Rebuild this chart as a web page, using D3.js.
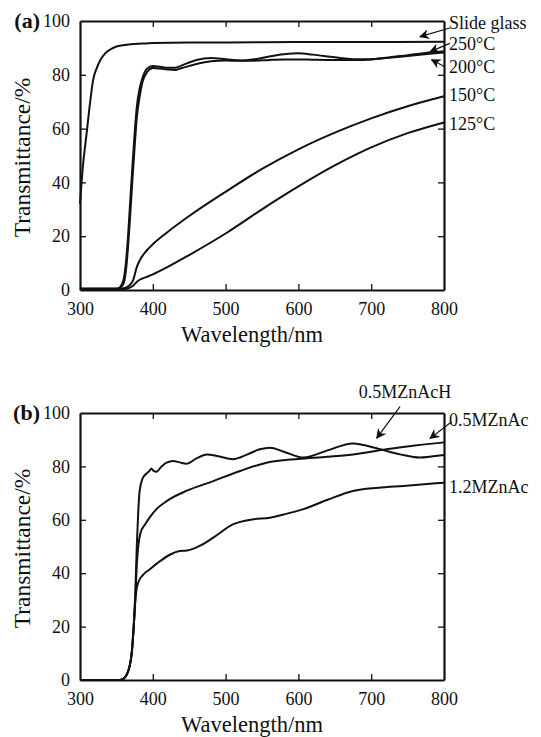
<!DOCTYPE html>
<html>
<head>
<meta charset="utf-8">
<script src="https://cdn.jsdelivr.net/npm/d3@7"></script>
<style>
  body { margin: 0; background: #fff; }
  svg text { font-family: "Liberation Serif", "DejaVu Serif", serif; fill: #111; }
</style>
</head>
<body>
<div id="chart"></div>
<script>

// ---- data ----
var xTicks = [300, 400, 500, 600, 700, 800];
var yTicks = [0, 20, 40, 60, 80, 100];

// panel (a): films annealed at different temperatures
var glassWl = [300, 304, 309, 314, 318, 323, 328, 334, 341, 350, 359, 370, 385, 400, 450, 500, 600, 700, 800];
var glassT  = [32, 46, 58, 70, 78, 82.5, 85.5, 87.8, 89.3, 90.5, 91, 91.4, 91.6, 91.8, 92, 92, 92.2, 92.2, 92.3];

var filmWl = [300, 340, 352, 356, 360, 363, 366, 369, 372, 375, 378, 382, 386, 392, 400, 410, 420, 430, 440, 460,
  480, 500, 520, 540, 560, 580, 600, 620, 650, 680, 700, 720, 750, 780, 800];
var t250 = [0.5, 0.5, 0.6, 1.5, 4, 10, 20, 33, 46, 58, 68, 75, 79, 82.3, 83.3, 83, 82.6, 82.6, 83.5, 85.5,
  86.2, 85.8, 85.3, 85.8, 86.8, 87.6, 88, 87.5, 86.5, 85.8, 85.8, 86.3, 87.3, 88.3, 88.8];
var t200 = [0.5, 0.5, 0.5, 1, 2.5, 7, 16, 28, 41, 53, 64, 72, 77.5, 81, 82.5, 82.3, 82, 81.8, 82.5, 84,
  85, 85.3, 85.2, 85.2, 85.5, 85.7, 85.7, 85.6, 85.5, 85.5, 85.7, 86.2, 87, 87.8, 88.3];

var lowWl = [300, 355, 360, 365, 369, 373, 378, 382, 391, 400, 420, 450, 500, 550, 600, 650, 700, 750, 800];
var t150  = [0.5, 0.5, 0.7, 1.2, 2, 3.7, 8.5, 11, 14.5, 17, 21.5, 27.5, 36.5, 45, 52.3, 58.5, 63.8, 68.3, 72];
var t125  = [0.3, 0.3, 0.3, 0.5, 1, 1.6, 3, 3.8, 4.8, 5.8, 8.5, 13, 21, 30, 38.5, 46.3, 53, 58.3, 62.3];

// panel (b): precursor concentration
var hWl = [300, 355, 360, 365, 368, 371, 374, 376, 378, 380, 382, 386, 392, 396, 398, 401, 405, 412, 419, 428, 437,
  446, 460, 474, 490, 510, 530, 547, 561, 580, 607, 640, 675, 712, 740, 767, 785, 800];
var tH  = [0, 0, 0.5, 2.5, 5, 10, 21, 33, 50, 63, 71, 75.5, 77.5, 78.5, 79.2, 78.3, 78, 80, 81.4, 82, 81.5,
  81, 83, 84.5, 83.8, 82.7, 84.5, 86.4, 87, 85.5, 83.3, 86, 88.6, 86.4, 84.5, 83.3, 83.8, 84.3];

var acWl = [300, 355, 360, 365, 368, 371, 374, 376, 378, 380, 383, 390, 396, 405, 419, 446, 483, 520, 556, 600, 640,
  675, 721, 760, 800];
var t05  = [0, 0, 0.5, 2.5, 5, 10, 21, 30, 43, 50, 55, 58.5, 61, 64, 67, 70.8, 74.5, 78.3, 81.4, 82.8, 83.6,
  84.5, 86.4, 87.8, 89];

var c12Wl = [300, 355, 360, 365, 368, 371, 374, 376, 378, 380, 387, 396, 410, 424, 437, 447, 456, 465, 483, 510,
  538, 561, 580, 607, 640, 675, 710, 744, 800];
var t12   = [0, 0, 0.5, 2.5, 5, 10, 21, 30, 34.5, 36.5, 39.5, 41.5, 44.5, 47, 48.3, 48.5, 49.2, 50.3, 53.3, 58.3,
  60.2, 60.8, 62, 64, 67.5, 70.8, 72, 72.7, 73.9];

function zipSeries(wl, t) {
  return wl.map(function(d, i) { return { wl: d, t: t[i] }; });
}

var panelA = {
  tag: "(a)",
  top: 21, bottom: 290,
  series: [zipSeries(glassWl, glassT), zipSeries(filmWl, t250), zipSeries(filmWl, t200),
           zipSeries(lowWl, t150), zipSeries(lowWl, t125)],
  labels: [
    { text: "Slide glass", y: 23 },
    { text: "250\u00b0C", y: 44 },
    { text: "200\u00b0C", y: 67 },
    { text: "150\u00b0C", y: 95 },
    { text: "125\u00b0C", y: 124 }
  ],
  // arrows in data units: [from wl, from T, tip wl, tip T]
  arrows: [[808, 97.4, 767, 94.2], [808, 91.7, 781, 88.6], [801, 83, 783, 85.6]]
};

var panelB = {
  tag: "(b)",
  top: 413, bottom: 680,
  series: [zipSeries(hWl, tH), zipSeries(acWl, t05), zipSeries(c12Wl, t12)],
  labels: [
    { text: "0.5MZnAcH", y: 392, x: 405, anchor: "middle" },
    { text: "0.5MZnAc", y: 420 },
    { text: "1.2MZnAc", y: 487 }
  ],
  arrows: [[739.6, 102.4, 707.6, 90.6], [810.6, 96.7, 780.8, 90.5]]
};

var width = 541, height = 737;
var left = 80, right = 444;

var svg = d3.select("#chart").append("svg")
  .attr("width", width)
  .attr("height", height);

// arrow head
svg.append("defs").append("marker")
  .attr("id", "head")
  .attr("viewBox", "0 0 10 10")
  .attr("refX", 9).attr("refY", 5)
  .attr("markerWidth", 10).attr("markerHeight", 10)
  .attr("markerUnits", "userSpaceOnUse")
  .attr("orient", "auto")
  .append("path")
  .attr("d", "M0,0 L10,5 L0,10 L3,5 Z")
  .style("fill", "#111");

function drawPanel(p) {
  var x = d3.scaleLinear().domain([300, 800]).range([left, right]);
  var y = d3.scaleLinear().domain([0, 100]).range([p.bottom, p.top]);

  var g = svg.append("g");

  // inward ticks on all four sides
  var tick = 6;
  g.append("g")
    .attr("transform", "translate(0," + p.bottom + ")")
    .call(d3.axisBottom(x).tickValues(xTicks).tickSizeInner(-tick).tickSizeOuter(0).tickPadding(12))
    .call(styleAxis);
  g.append("g")
    .attr("transform", "translate(0," + p.top + ")")
    .call(d3.axisTop(x).tickValues(xTicks).tickSizeInner(-tick).tickSizeOuter(0).tickFormat(""))
    .call(styleAxis);
  g.append("g")
    .attr("transform", "translate(" + left + ",0)")
    .call(d3.axisLeft(y).tickValues(yTicks).tickSizeInner(-tick).tickSizeOuter(0).tickPadding(10))
    .call(styleAxis);
  g.append("g")
    .attr("transform", "translate(" + right + ",0)")
    .call(d3.axisRight(y).tickValues(yTicks).tickSizeInner(-tick).tickSizeOuter(0).tickFormat(""))
    .call(styleAxis);

  // hide the end ticks that sit on the frame
  g.selectAll(".tick line").filter(function(d) { return d === 300 || d === 800 || d === 0 || d === 100; })
    .remove();

  // curves
  var line = d3.line()
    .x(function(d) { return x(d.wl); })
    .y(function(d) { return y(d.t); })
    .curve(d3.curveMonotoneX);

  g.selectAll("path.curve")
    .data(p.series)
    .enter().append("path")
      .attr("class", "curve")
      .attr("d", line)
      .style("fill", "none")
      .style("stroke", "#111")
      .style("stroke-width", 2);

  // panel tag
  g.append("text")
    .attr("x", 40).attr("y", p.top + 7)
    .attr("text-anchor", "end")
    .style("font-size", "22px")
    .style("font-weight", "bold")
    .text(p.tag);

  // axis titles
  g.append("text")
    .attr("x", (left + right) / 2 - 10)
    .attr("y", p.bottom + 52)
    .attr("text-anchor", "middle")
    .style("font-size", "22.5px")
    .text("Wavelength/nm");
  g.append("text")
    .attr("transform", "translate(30," + ((p.top + p.bottom) / 2 + 2) + ") rotate(-90)")
    .attr("text-anchor", "middle")
    .style("font-size", "23.5px")
    .text("Transmittance/%");

  // series labels
  g.selectAll("text.lab")
    .data(p.labels)
    .enter().append("text")
      .attr("class", "lab")
      .attr("x", function(d) { return d.x || right + 5; })
      .attr("y", function(d) { return d.y; })
      .attr("dy", "0.35em")
      .attr("text-anchor", function(d) { return d.anchor || "start"; })
      .style("font-size", "18px")
      .text(function(d) { return d.text; });

  g.selectAll("line.arrow")
    .data(p.arrows)
    .enter().append("line")
      .attr("class", "arrow")
      .attr("x1", function(d) { return x(d[0]); })
      .attr("y1", function(d) { return y(d[1]); })
      .attr("x2", function(d) { return x(d[2]); })
      .attr("y2", function(d) { return y(d[3]); })
      .style("stroke", "#111")
      .style("stroke-width", 1.2)
      .attr("marker-end", "url(#head)");
}

function styleAxis(sel) {
  sel.select(".domain").style("stroke", "#111").style("stroke-width", 2.2);
  sel.selectAll(".tick line").style("stroke", "#111").style("stroke-width", 1.3);
  sel.selectAll(".tick text")
    .style("font-family", "'Liberation Serif', serif")
    .style("font-size", "18px")
    .style("fill", "#111");
}

drawPanel(panelA);
drawPanel(panelB);

</script>
</body>
</html>
